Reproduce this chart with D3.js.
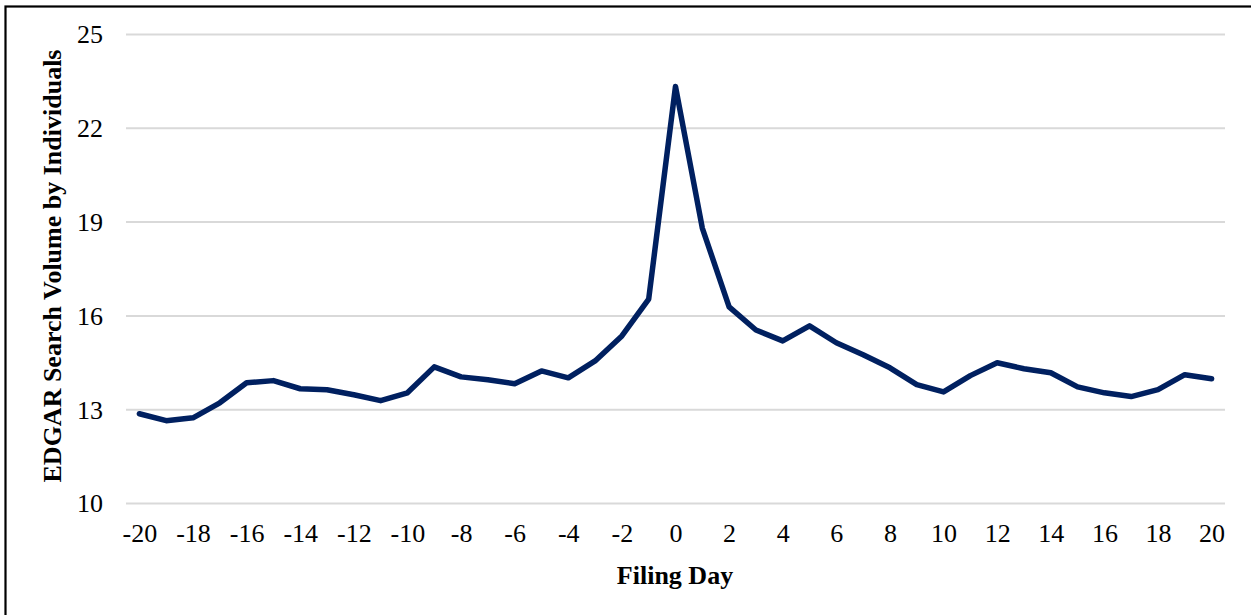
<!DOCTYPE html>
<html>
<head>
<meta charset="utf-8">
<script src="https://cdn.jsdelivr.net/npm/d3@7"></script>
<style>
	body { margin: 0; background: #fff; }
	svg { display: block; font-family: "Liberation Serif", "Times New Roman", serif; }
</style>
</head>
<body>
<div class="forshow"></div>
<script>
// filing day relative to the filing date
var days = d3.range(-20, 21);

// EDGAR search volume by individuals
var volume = [
	12.87, 12.65, 12.74, 13.22, 13.86, 13.93, 13.67, 13.64, 13.48, 13.29,
	13.54, 14.37, 14.05, 13.96, 13.83, 14.24, 14.02, 14.56, 15.36, 16.54,
	23.34,
	18.81, 16.29, 15.55, 15.20, 15.68, 15.14, 14.76, 14.34, 13.80, 13.57,
	14.09, 14.50, 14.31, 14.18, 13.73, 13.54, 13.42, 13.64, 14.12, 13.99
];

var yTicks = [10, 13, 16, 19, 22, 25];
var xTicks = d3.range(-20, 21, 2);

var width = 1251, height = 615;

var svgContainer = d3.select(".forshow").append("svg")
	.attr("width", width)
	.attr("height", height);

// frame (only left and top edges are visible)
svgContainer.append("rect")
	.attr("x", 5.5)
	.attr("y", 6.5)
	.attr("width", 1400)
	.attr("height", 800)
	.attr("fill", "none")
	.attr("stroke", "#000")
	.attr("stroke-width", 2.2);

var x = d3.scalePoint()
	.domain(days)
	.range([126, 1225])
	.padding(0.5);

var y = d3.scaleLinear()
	.domain([10, 25])
	.range([503.5, 34.5]);

// gridlines
svgContainer.append("g")
	.selectAll("line")
	.data(yTicks)
	.enter()
	.append("line")
	.attr("x1", 126)
	.attr("x2", 1225)
	.attr("y1", function(d) { return y(d); })
	.attr("y2", function(d) { return y(d); })
	.attr("stroke", "#d9d9d9")
	.attr("stroke-width", 2);

// y axis labels
var yAxis = d3.axisLeft(y).tickValues(yTicks).tickSize(0).tickPadding(0);
var gy = svgContainer.append("g")
	.attr("transform", "translate(103,0)")
	.call(yAxis);
gy.select(".domain").remove();
gy.selectAll("text")
	.attr("font-family", "Liberation Serif")
	.attr("font-size", 26)
	.attr("fill", "#000");

// x axis labels
var xAxis = d3.axisBottom(x).tickValues(xTicks).tickSize(0).tickPadding(0);
var gx = svgContainer.append("g")
	.attr("transform", "translate(0,524)")
	.call(xAxis);
gx.select(".domain").remove();
gx.selectAll("text")
	.attr("font-family", "Liberation Serif")
	.attr("font-size", 26)
	.attr("fill", "#000");

// series
var line = d3.line()
	.x(function(d, i) { return x(days[i]); })
	.y(function(d) { return y(d); });

svgContainer.append("path")
	.datum(volume)
	.attr("d", line)
	.attr("fill", "none")
	.attr("stroke", "#002060")
	.attr("stroke-width", 5.5)
	.attr("stroke-linejoin", "round")
	.attr("stroke-linecap", "round");

// axis titles
svgContainer.append("text")
	.attr("x", 675)
	.attr("y", 584)
	.attr("text-anchor", "middle")
	.attr("font-weight", "bold")
	.attr("font-size", 26)
	.text("Filing Day");

svgContainer.append("text")
	.attr("transform", "translate(61,266) rotate(-90)")
	.attr("text-anchor", "middle")
	.attr("font-weight", "bold")
	.attr("font-size", 26)
	.text("EDGAR Search Volume by Individuals");
</script>
</body>
</html>
